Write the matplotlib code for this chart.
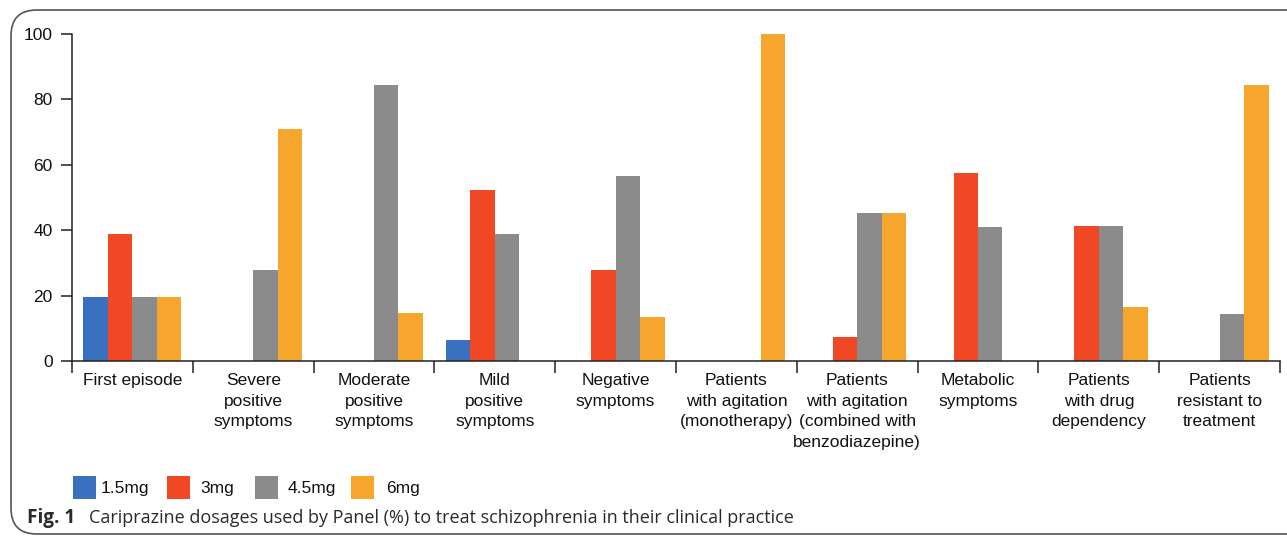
import matplotlib
matplotlib.use("Agg")
import matplotlib.pyplot as plt
import numpy as np
from matplotlib.patches import FancyBboxPatch, Rectangle

categories = [
    "First episode",
    "Severe\npositive\nsymptoms",
    "Moderate\npositive\nsymptoms",
    "Mild\npositive\nsymptoms",
    "Negative\nsymptoms",
    "Patients\nwith agitation\n(monotherapy)",
    "Patients\nwith agitation\n(combined with\nbenzodiazepine)",
    "Metabolic\nsymptoms",
    "Patients\nwith drug\ndependency",
    "Patients\nresistant to\ntreatment",
]
series_names = ["1.5mg", "3mg", "4.5mg", "6mg"]
dose_1_5 = [19.5, 0, 0, 6.4, 0, 0, 0, 0, 0, 0]
dose_3 = [38.9, 0, 0, 52.3, 27.8, 0, 7.3, 57.5, 41.3, 0]
dose_4_5 = [19.5, 27.8, 84.4, 38.8, 56.6, 0, 45.3, 41.0, 41.3, 14.4]
dose_6 = [19.5, 70.9, 14.7, 0, 13.5, 100, 45.3, 0, 16.5, 84.4]
y_ticks = [0, 20, 40, 60, 80, 100]

colors = ["#3a70c0", "#f04824", "#8b8b8b", "#f6a52d"]
series = [dose_1_5, dose_3, dose_4_5, dose_6]

W, H = 1287, 537
fig = plt.figure(figsize=(W / 100, H / 100), dpi=100)
plt.rcParams["font.family"] = ["Liberation Sans", "DejaVu Sans"]

ax = fig.add_axes([72 / W, 1 - 361 / H, (1280 - 72) / W, (361 - 34) / H])
n = len(categories)
x = np.arange(n)
bw = 0.2025
for i, (vals, c) in enumerate(zip(series, colors)):
    ax.bar(x + (i - 1.5) * bw, vals, width=bw, color=c, linewidth=0)

ax.set_xlim(-0.5, n - 0.5)
ax.set_ylim(0, 100)
ax.set_yticks(y_ticks)
ax.set_yticklabels([str(v) for v in y_ticks], fontsize=12.5, color="#111111")
ax.set_xticks(x)
ax.set_xticklabels(categories, fontsize=12.5, color="#111111", linespacing=1.48)
ax.set_xticks(np.arange(n + 1) - 0.5, minor=True)
ax.tick_params(axis="x", which="major", length=0, pad=8.5)
ax.tick_params(axis="x", which="minor", length=8.6, width=1.1, direction="out", color="#222222")
ax.tick_params(axis="y", length=8, width=1.1, color="#222222", pad=6)
for s in ["top", "right"]:
    ax.spines[s].set_visible(False)
for s in ["left", "bottom"]:
    ax.spines[s].set_linewidth(1.1)
    ax.spines[s].set_color("#222222")

# Legend (manual squares)
leg_x = [73, 167, 255, 351]
txt_x = [101, 200, 288, 386]
for name, c, lx, tx in zip(series_names, colors, leg_x, txt_x):
    fig.patches.append(Rectangle((lx / W, 1 - 499 / H), 23 / W, 23 / H,
                                 transform=fig.transFigure, facecolor=c, edgecolor="none"))
    fig.text(tx / W, 1 - 488 / H, name, fontsize=12.5, va="center", ha="left", color="#111111")

# Rounded frame
fig.patches.append(FancyBboxPatch((11 / W, 1 - 534 / H), 1.05, (534 - 10) / H,
                                  boxstyle="round,pad=0,rounding_size=0.02",
                                  transform=fig.transFigure, facecolor="none",
                                  edgecolor="#555555", linewidth=1.2, mutation_aspect=W / H))

# Caption
fig.text(27 / W, 1 - 518 / H, "Fig. 1", fontsize=13.6, fontweight="bold", va="center",
         ha="left", color="#2a2a2a", family=["Open Sans", "DejaVu Sans"])
fig.text(89 / W, 1 - 518 / H,
         "Cariprazine dosages used by Panel (%) to treat schizophrenia in their clinical practice",
         fontsize=13.0, va="center", ha="left", color="#2a2a2a", family=["Open Sans", "DejaVu Sans"])

fig.savefig("out.png", dpi=100)
